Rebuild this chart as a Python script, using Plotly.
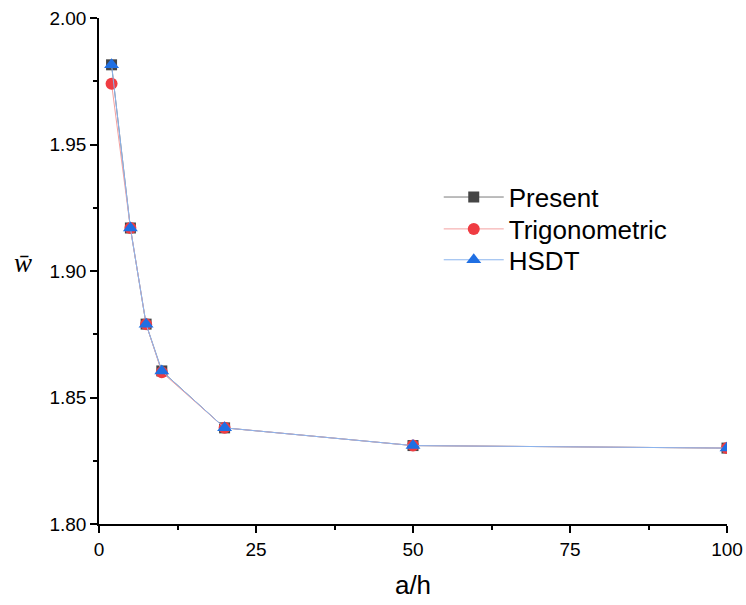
import plotly.graph_objects as go

a_h = [2, 5, 7.5, 10, 20, 50, 100]
present = [1.9815, 1.917, 1.879, 1.8605, 1.838, 1.831, 1.830]
trigonometric = [1.974, 1.917, 1.879, 1.860, 1.838, 1.831, 1.830]
hsdt = [1.9815, 1.917, 1.879, 1.8605, 1.838, 1.831, 1.830]

x_ticks = [0, 25, 50, 75, 100]
y_ticks = [1.80, 1.85, 1.90, 1.95, 2.00]

fig = go.Figure()
fig.add_trace(go.Scatter(x=a_h, y=present, name="Present", mode="lines+markers",
                         line=dict(color="#7a7a7a", width=1), legend="legend",
                         marker=dict(symbol="square", size=11, color="#454545")))
fig.add_trace(go.Scatter(x=a_h, y=trigonometric, name="Trigonometric", mode="lines+markers",
                         line=dict(color="#f4a0a0", width=1), legend="legend2",
                         marker=dict(symbol="circle", size=12, color="#ef3c42")))
fig.add_trace(go.Scatter(x=a_h, y=hsdt, name="HSDT", mode="lines+markers",
                         line=dict(color="#8ab4ee", width=1), legend="legend3",
                         marker=dict(symbol="triangle-up", size=13, color="#1f6fe3")))

axis_common = dict(showline=True, linecolor="black", linewidth=1.5, showgrid=False,
                   zeroline=False, ticks="outside", ticklen=7, tickwidth=1.5, tickcolor="black",
                   tickfont=dict(family="Arial", size=19, color="black"), mirror=False,
                   automargin=False, ticklabeloverflow="allow")

fig.update_xaxes(range=[0, 100], tickvals=x_ticks,
                 title=dict(text="a/h", font=dict(family="Arial", size=26, color="black"), standoff=17),
                 minor=dict(ticks="outside", ticklen=4, tickwidth=1.5, tickcolor="black", dtick=12.5),
                 **axis_common)
fig.update_yaxes(range=[1.80, 2.00], tickvals=y_ticks, tickformat=".2f",
                 minor=dict(ticks="outside", ticklen=4, tickwidth=1.5, tickcolor="black", dtick=0.025),
                 **axis_common)

fig.add_annotation(text="<i>w̄</i>", xref="paper", yref="paper", x=-0.139, y=0.515,
                   showarrow=False, font=dict(family="Liberation Serif", size=27, color="black"))

leg_common = dict(x=0.541, xanchor="left", yanchor="middle",
                  font=dict(family="Arial", size=26, color="black"),
                  bgcolor="rgba(0,0,0,0)", itemwidth=60)

fig.update_layout(width=746, height=605, margin=dict(l=99, r=19, t=18, b=81),
                  plot_bgcolor="white", paper_bgcolor="white",
                  legend=dict(y=0.646, **leg_common),
                  legend2=dict(y=0.583, **leg_common),
                  legend3=dict(y=0.522, **leg_common),
                  showlegend=True)

fig.write_html("out.html", config={"displayModeBar": False},
               post_script="document.body.style.margin='0';")
